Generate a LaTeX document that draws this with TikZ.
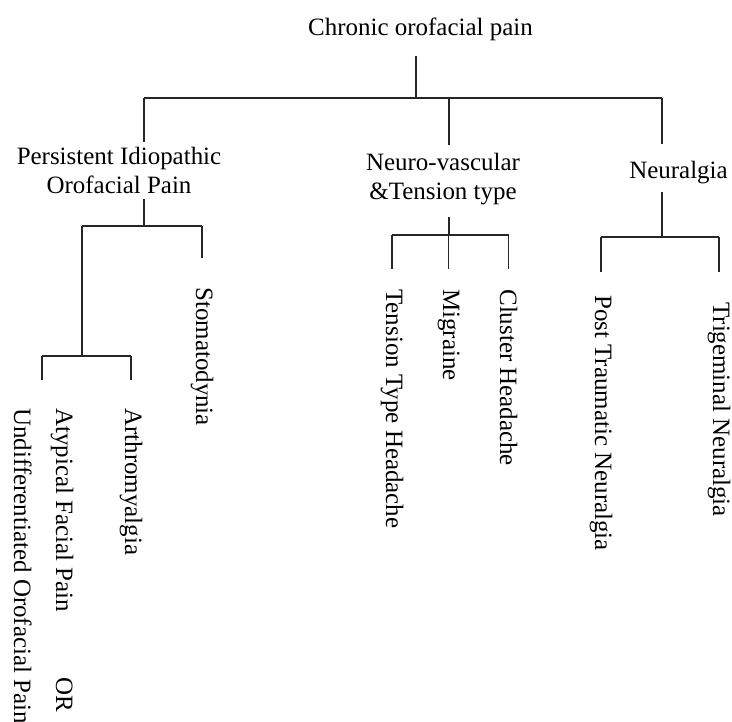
\documentclass[tikz,border=0pt]{standalone}
\usepackage{fontspec}
\setmainfont{Liberation Serif}

\tikzset{
  lbl/.style={inner sep=0pt, font=\fontsize{14.2pt}{16.5pt}\selectfont},
  leaf/.style={lbl, rotate=-90, anchor=base west},
  tree/.style={line width=0.85pt, black!85},
}

\begin{document}
\begin{tikzpicture}[x=0.2mm, y=0.2mm]
  \useasboundingbox (0,0) rectangle (732,-722);

  % headings
  \node[lbl, anchor=base] (root) at (420.5,-35) {Chronic orofacial pain};
  \node[lbl, anchor=north, align=center] (pers) at (119,-147) {Persistent Idiopathic\\Orofacial Pain};
  \node[lbl, anchor=north, align=center] (neuro) at (443,-153) {Neuro-vascular\\\&Tension type};
  \node[lbl, anchor=base] (neural) at (678.5,-178) {Neuralgia};

  % leaves, read top to bottom
  \node[leaf] (undiff) at (14,-408) {Undifferentiated Orofacial Pain};
  \node[leaf] (atyp) at (56,-408) {Atypical Facial Pain\hspace{2.6em}OR};
  \node[leaf] (arthro) at (125,-408) {Arthromyalgia};
  \node[leaf] (stomat) at (196,-287) {Stomatodynia};
  \node[leaf] (tension) at (386,-289) {Tension Type Headache};
  \node[leaf] (migr) at (443,-289) {Migraine};
  \node[leaf] (cluster) at (500,-289) {Cluster Headache};
  \node[leaf] (posttr) at (595,-295) {Post Traumatic Neuralgia};
  \node[leaf] (trigem) at (713,-302) {Trigeminal Neuralgia};

  % junctions
  \coordinate (rootbar) at (416,-98);
  \coordinate (persbar) at (144,-226);
  \coordinate (nvbar) at (449,-235);
  \coordinate (nlbar) at (662,-237);
  \coordinate (orbar) at (82,-356);
  \coordinate (orleft) at (42,-356);

  % top level
  \draw[tree, shorten <=3mm] (root.south -| rootbar) -- (rootbar);
  \draw[tree] (rootbar -| persbar) -- (rootbar -| nlbar);
  \draw[tree, shorten >=1mm] (rootbar -| persbar) -- (pers.north -| persbar);
  \draw[tree, shorten >=1.6mm] (rootbar -| nvbar) -- (neuro.north -| nvbar);
  \draw[tree, shorten >=3.2mm] (rootbar -| nlbar) -- (neural.north -| nlbar);

  % persistent idiopathic
  \draw[tree, shorten <=1mm] (pers.south -| persbar) -- (persbar);
  \draw[tree] (persbar -| orbar) -- (persbar -| stomat.west);
  \draw[tree, shorten >=5.8mm] (persbar -| stomat.west) -- (stomat.west);
  \draw[tree] (persbar -| orbar) -- (orbar);
  \draw[tree] (orleft) -- (orbar -| arthro.west);
  \draw[tree, shorten >=5.6mm] (orbar -| arthro.west) -- (arthro.west);
  \draw[tree, shorten >=5.6mm] (orleft) -- (orleft |- undiff.west);

  % neuro-vascular
  \draw[tree, shorten <=2.3mm] (neuro.south -| nvbar) -- (nvbar);
  \draw[tree] (nvbar -| tension.west) -- (nvbar -| cluster.west);
  \foreach \n in {tension,migr,cluster}
    \draw[tree, shorten >=4mm] (nvbar -| \n.west) -- (\n.west);

  % neuralgia
  \draw[tree, shorten <=1.7mm] (neural.south -| nlbar) -- (nlbar);
  \draw[tree] (nlbar -| posttr.west) -- (nlbar -| trigem.west);
  \draw[tree, shorten >=4.6mm] (nlbar -| posttr.west) -- (posttr.west);
  \draw[tree, shorten >=6mm] (nlbar -| trigem.west) -- (trigem.west);
\end{tikzpicture}
\end{document}
